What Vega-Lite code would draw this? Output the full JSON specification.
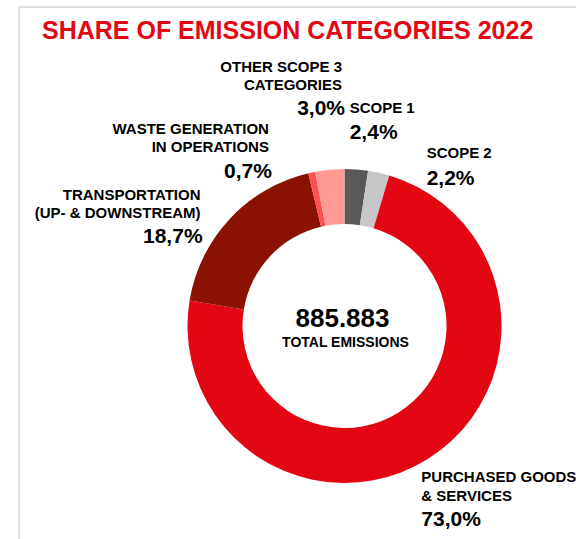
{
  "$schema": "https://vega.github.io/schema/vega-lite/v6.json",
  "width": 651,
  "height": 638,
  "autosize": "none",
  "padding": {"left": 19, "top": 7, "right": -94, "bottom": -106},
  "background": "white",
  "view": {"stroke": "#d6d6d6", "strokeWidth": 1.5},
  "config": {"font": "Liberation Sans"},
  "title": {
    "text": "SHARE OF EMISSION CATEGORIES 2022",
    "color": "#e30613",
    "font": "Liberation Sans",
    "fontSize": 25,
    "fontWeight": "bold",
    "anchor": "start",
    "frame": "group",
    "baseline": "alphabetic",
    "offset": -57,
    "dx": 23
  },
  "datasets": {
    "shares": [
      {"cat": "Scope 1", "order": 1, "share": 2.4, "name": "SCOPE 1", "pct": "2,4%"},
      {"cat": "Scope 2", "order": 2, "share": 2.2, "name": "SCOPE 2", "pct": "2,2%"},
      {"cat": "Purchased goods & services", "order": 3, "share": 73.0, "name": "PURCHASED GOODS\n& SERVICES", "pct": "73,0%"},
      {"cat": "Transportation", "order": 4, "share": 18.7, "name": "TRANSPORTATION\n(UP- & DOWNSTREAM)", "pct": "18,7%"},
      {"cat": "Waste generation", "order": 5, "share": 0.7, "name": "WASTE GENERATION\nIN OPERATIONS", "pct": "0,7%"},
      {"cat": "Other scope 3", "order": 6, "share": 3.0, "name": "OTHER SCOPE 3\nCATEGORIES", "pct": "3,0%"}
    ],
    "total": [{"value": "885.883", "label": "TOTAL EMISSIONS"}]
  },
  "layer": [
    {
      "data": {"name": "shares"},
      "mark": {"type": "arc", "innerRadius": 102, "outerRadius": 157},
      "encoding": {
        "theta": {"field": "share", "type": "quantitative", "stack": true},
        "order": {"field": "order", "type": "quantitative"},
        "color": {
          "field": "cat",
          "type": "nominal",
          "legend": null,
          "scale": {
            "domain": ["Scope 1", "Scope 2", "Purchased goods & services", "Transportation", "Waste generation", "Other scope 3"],
            "range": ["#595959", "#c6c6c6", "#e30613", "#8b1200", "#ff4f4f", "#ff9a94"]
          }
        }
      }
    },
    {
      "data": {"name": "shares"},
      "mark": {"type": "text", "radius": 175, "dx": -8, "dy": -38, "align": "left", "baseline": "alphabetic", "fontSize": 15, "fontWeight": "bold", "lineBreak": "\n", "lineHeight": 18.5, "color": "#000000"},
      "encoding": {
        "theta": {"field": "share", "type": "quantitative", "stack": true},
        "order": {"field": "order", "type": "quantitative"},
        "text": {"condition": {"test": "datum.cat === 'Scope 1'", "field": "name"}, "value": ""}
      }
    },
    {
      "data": {"name": "shares"},
      "mark": {"type": "text", "radius": 175, "dx": -8, "dy": -12, "align": "left", "baseline": "alphabetic", "fontSize": 21, "fontWeight": "bold", "color": "#000000"},
      "encoding": {
        "theta": {"field": "share", "type": "quantitative", "stack": true},
        "order": {"field": "order", "type": "quantitative"},
        "text": {"condition": {"test": "datum.cat === 'Scope 1'", "field": "pct"}, "value": ""}
      }
    },
    {
      "data": {"name": "shares"},
      "mark": {"type": "text", "radius": 175, "dx": 44, "dy": 3, "align": "left", "baseline": "alphabetic", "fontSize": 15, "fontWeight": "bold", "lineBreak": "\n", "lineHeight": 18.5, "color": "#000000"},
      "encoding": {
        "theta": {"field": "share", "type": "quantitative", "stack": true},
        "order": {"field": "order", "type": "quantitative"},
        "text": {"condition": {"test": "datum.cat === 'Scope 2'", "field": "name"}, "value": ""}
      }
    },
    {
      "data": {"name": "shares"},
      "mark": {"type": "text", "radius": 175, "dx": 44, "dy": 30, "align": "left", "baseline": "alphabetic", "fontSize": 21, "fontWeight": "bold", "color": "#000000"},
      "encoding": {
        "theta": {"field": "share", "type": "quantitative", "stack": true},
        "order": {"field": "order", "type": "quantitative"},
        "text": {"condition": {"test": "datum.cat === 'Scope 2'", "field": "pct"}, "value": ""}
      }
    },
    {
      "data": {"name": "shares"},
      "mark": {"type": "text", "radius": 175, "dx": -16, "dy": 8, "align": "left", "baseline": "alphabetic", "fontSize": 15, "fontWeight": "bold", "lineBreak": "\n", "lineHeight": 18.5, "color": "#000000"},
      "encoding": {
        "theta": {"field": "share", "type": "quantitative", "stack": true},
        "order": {"field": "order", "type": "quantitative"},
        "text": {"condition": {"test": "datum.cat === 'Purchased goods & services'", "field": "name"}, "value": ""}
      }
    },
    {
      "data": {"name": "shares"},
      "mark": {"type": "text", "radius": 175, "dx": -16, "dy": 52, "align": "left", "baseline": "alphabetic", "fontSize": 21, "fontWeight": "bold", "color": "#000000"},
      "encoding": {
        "theta": {"field": "share", "type": "quantitative", "stack": true},
        "order": {"field": "order", "type": "quantitative"},
        "text": {"condition": {"test": "datum.cat === 'Purchased goods & services'", "field": "pct"}, "value": ""}
      }
    },
    {
      "data": {"name": "shares"},
      "mark": {"type": "text", "radius": 175, "dx": -16, "dy": -7, "align": "right", "baseline": "alphabetic", "fontSize": 15, "fontWeight": "bold", "lineBreak": "\n", "lineHeight": 18.5, "color": "#000000"},
      "encoding": {
        "theta": {"field": "share", "type": "quantitative", "stack": true},
        "order": {"field": "order", "type": "quantitative"},
        "text": {"condition": {"test": "datum.cat === 'Transportation'", "field": "name"}, "value": ""}
      }
    },
    {
      "data": {"name": "shares"},
      "mark": {"type": "text", "radius": 175, "dx": -14, "dy": 36, "align": "right", "baseline": "alphabetic", "fontSize": 21, "fontWeight": "bold", "color": "#000000"},
      "encoding": {
        "theta": {"field": "share", "type": "quantitative", "stack": true},
        "order": {"field": "order", "type": "quantitative"},
        "text": {"condition": {"test": "datum.cat === 'Transportation'", "field": "pct"}, "value": ""}
      }
    },
    {
      "data": {"name": "shares"},
      "mark": {"type": "text", "radius": 175, "dx": -39, "dy": -21, "align": "right", "baseline": "alphabetic", "fontSize": 15, "fontWeight": "bold", "lineBreak": "\n", "lineHeight": 18.5, "color": "#000000"},
      "encoding": {
        "theta": {"field": "share", "type": "quantitative", "stack": true},
        "order": {"field": "order", "type": "quantitative"},
        "text": {"condition": {"test": "datum.cat === 'Waste generation'", "field": "name"}, "value": ""}
      }
    },
    {
      "data": {"name": "shares"},
      "mark": {"type": "text", "radius": 175, "dx": -36, "dy": 23, "align": "right", "baseline": "alphabetic", "fontSize": 21, "fontWeight": "bold", "color": "#000000"},
      "encoding": {
        "theta": {"field": "share", "type": "quantitative", "stack": true},
        "order": {"field": "order", "type": "quantitative"},
        "text": {"condition": {"test": "datum.cat === 'Waste generation'", "field": "pct"}, "value": ""}
      }
    },
    {
      "data": {"name": "shares"},
      "mark": {"type": "text", "radius": 175, "dx": 14, "dy": -80, "align": "right", "baseline": "alphabetic", "fontSize": 15, "fontWeight": "bold", "lineBreak": "\n", "lineHeight": 18.5, "color": "#000000"},
      "encoding": {
        "theta": {"field": "share", "type": "quantitative", "stack": true},
        "order": {"field": "order", "type": "quantitative"},
        "text": {"condition": {"test": "datum.cat === 'Other scope 3'", "field": "name"}, "value": ""}
      }
    },
    {
      "data": {"name": "shares"},
      "mark": {"type": "text", "radius": 175, "dx": 17, "dy": -37, "align": "right", "baseline": "alphabetic", "fontSize": 21, "fontWeight": "bold", "color": "#000000"},
      "encoding": {
        "theta": {"field": "share", "type": "quantitative", "stack": true},
        "order": {"field": "order", "type": "quantitative"},
        "text": {"condition": {"test": "datum.cat === 'Other scope 3'", "field": "pct"}, "value": ""}
      }
    },
    {
      "data": {"name": "total"},
      "mark": {"type": "text", "align": "center", "baseline": "alphabetic", "fontSize": 26, "fontWeight": "bold", "dx": -2, "dy": 1, "color": "#000000"},
      "encoding": {"text": {"field": "value"}}
    },
    {
      "data": {"name": "total"},
      "mark": {"type": "text", "align": "center", "baseline": "alphabetic", "fontSize": 14, "fontWeight": "bold", "dx": 1, "dy": 21, "color": "#000000"},
      "encoding": {"text": {"field": "label"}}
    }
  ]
}
